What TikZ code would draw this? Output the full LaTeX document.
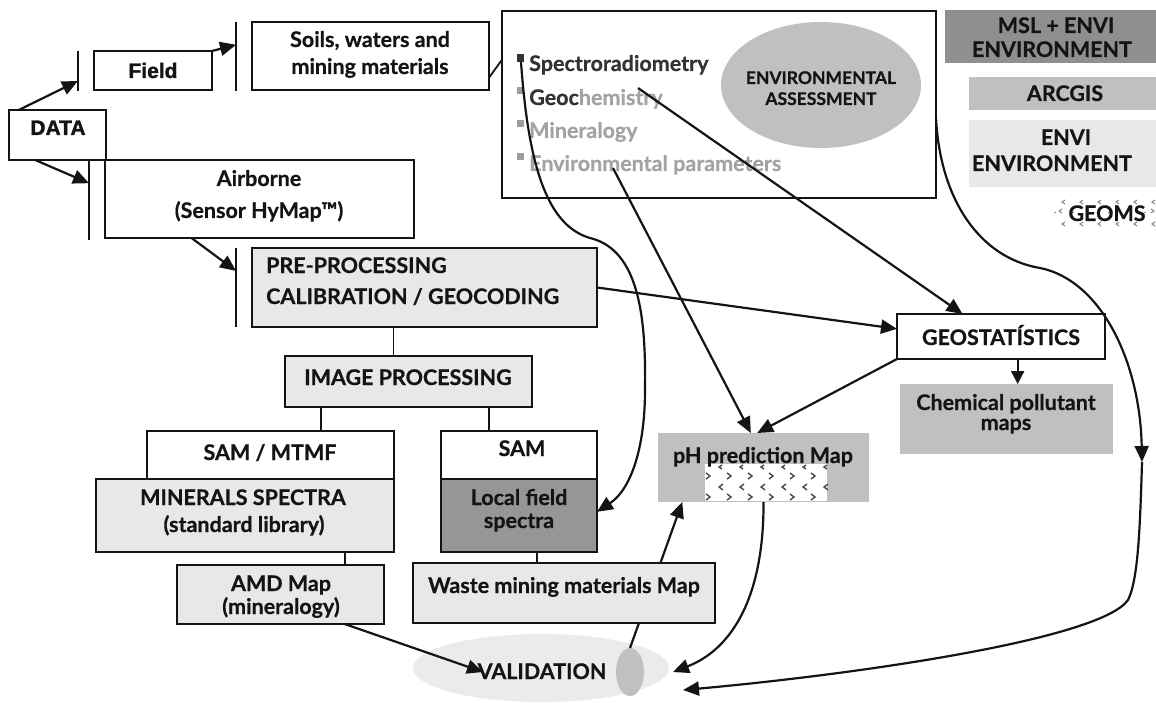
\documentclass[tikz,border=0pt]{standalone}
\usepackage{fontspec}
\setmainfont{Lato}[BoldFeatures={FakeBold=0.6}]
\newfontfamily\arialf{Liberation Sans}[BoldFeatures={FakeBold=1.6}]
\usetikzlibrary{arrows.meta,calc,shapes.geometric,fit}
\definecolor{lg}{HTML}{E8E8E8}
\definecolor{mg}{HTML}{C0C0C0}
\definecolor{dg}{HTML}{969696}
\definecolor{msl}{HTML}{8F8F8F}
\definecolor{vg}{HTML}{EBEBEB}
\definecolor{ink}{HTML}{141414}
\definecolor{bdark}{HTML}{333333}
\definecolor{bgray}{HTML}{9C9C9C}
\definecolor{tgray}{HTML}{A3A3A3}
\definecolor{chev}{HTML}{4A4A4A}
\definecolor{chevl}{HTML}{8A8A8A}
\begin{document}
\begin{tikzpicture}[x=1pt,y=-1pt,
  bx/.style={draw=ink, line width=2.1pt, inner sep=0pt, outer sep=0pt},
  fl/.style={inner sep=0pt, outer sep=0pt, draw=none},
  tx/.style={font=\bfseries\fontsize{21.5}{25}\selectfont, text=ink, inner sep=0pt, anchor=base},
  txs/.style={font=\bfseries\fontsize{17.5}{20}\selectfont, text=ink, inner sep=0pt, anchor=base},
  ta/.style={font=\arialf\bfseries\fontsize{21}{24}\selectfont, text=ink, inner sep=0pt, anchor=base},
  bar/.style={draw=ink, line width=2.2pt},
  ln/.style={draw=ink, line width=1.7pt},
  arr/.style={draw=ink, line width=2.2pt, -{Triangle[length=16pt,width=14pt]}},
  chv/.style={draw=chev, line width=1.4pt}
]
\useasboundingbox (0,0) rectangle (1156,703);

% ---------- validation ellipse (bottom layer) ----------
\node[fl, ellipse, fill=vg, minimum width=256pt, minimum height=68pt] (val) at (541,668) {};
\node[fl, ellipse, fill=mg, minimum width=28pt, minimum height=48pt] (valsm) at (630,672) {};

% ---------- boxes ----------
\node[fl, fit={(658,433) (869,502)}, fill=mg] (ph) {};
\draw[arr] (valsm.north) -- ($(ph.south west)!0.115!(ph.south east)$);

\node[bx, fit={(94,51) (212,90)}] (field) {};
\node[bx, fit={(252,22) (489,90)}] (soils) {};
\node[bx, fit={(9,110) (106,160)}, fill=white] (data) {};
\node[bx, fit={(105,160) (414,238)}] (air) {};
\node[bx, line width=1.6pt, fit={(502,11) (936,198)}] (env) {};
\node[fl, ellipse, fill=mg, minimum width=200pt, minimum height=126pt] (envass) at (821,85) {};
\node[fl, fit={(945,10) (1156,63)}, fill=msl] (msl) {};
\node[fl, fit={(969,77) (1156,110)}, fill=mg] (arcgis) {};
\node[fl, fit={(969,120) (1156,187)}, fill=lg] (envi) {};
\node[fl, fit={(1057,199) (1156,228)}, fill=white] (geoms) {};
\node[bx, fit={(252,248) (597,327)}, fill=lg] (pre) {};
\node[bx, fit={(285,356) (532,407)}, fill=lg] (ip) {};
\node[bx, fit={(147,431) (394,479)}, fill=white] (sammtmf) {};
\node[bx, fit={(96,479) (394,552)}, fill=lg] (minerals) {};
\node[bx, fit={(441,431) (597,479)}, fill=white] (sam) {};
\node[bx, fit={(441,479) (597,552)}, fill=dg] (local) {};
\node[bx, fit={(177,565) (384,624)}, fill=lg] (amd) {};
\node[bx, fit={(413,563) (715,623)}, fill=lg] (waste) {};
\node[fl, fit={(900,384) (1113,454)}, fill=mg] (chem) {};
\node[bx, fit={(897,314) (1105,359)}, fill=white] (geo) {};

% pattern inside pH map
\node[fl, fit={(705,464) (827,501)}, fill=white] (phpat) {};
\foreach \x in {706,727,748,769,790,811}{
  \draw[chv] (\x,473) -- (\x+4,476) -- (\x,479);
  \draw[chv] (\x,494) -- (\x+4,497) -- (\x,500);
}
\foreach \x in {719,740,761,782,803,824}{
  \draw[chv] (\x+3,465) -- (\x,467) -- (\x+3,469);
  \draw[chv] (\x+4,484) -- (\x,487) -- (\x+4,490);
}
% pattern of GEOMS
\foreach \x in {1062,1080,1098,1116,1134,1152}{
  \draw[draw=chevl, line width=1pt] (\x+3,200) -- (\x,202) -- (\x+3,204);
  \draw[draw=chevl, line width=1pt] (\x+3,222) -- (\x,224) -- (\x+3,226);
  \draw[draw=chevl, line width=1pt, dash pattern=on 2pt off 5pt] (\x-8,213) -- (\x-6,213);
}
\draw[draw=chevl, line width=1pt] (1062,209) -- (1059,211) -- (1062,213);
\draw[draw=chevl, line width=1pt] (1151,209) -- (1154,211) -- (1151,213);

% ---------- vertical bars ----------
\coordinate (b1t) at (78,51);  \coordinate (b1b) at (78,91);
\coordinate (b2t) at (236,22); \coordinate (b2b) at (236,91);
\coordinate (b3t) at (89,160); \coordinate (b3b) at (89,240);
\coordinate (b4t) at (236,248);\coordinate (b4b) at (236,327);
\draw[bar] (b1t) -- (b1b);
\draw[bar] (b2t) -- (b2b);
\draw[bar] (b3t) -- (b3b);
\draw[bar] (b4t) -- (b4b);

% ---------- bullets ----------
\node[fl, fill=bdark, minimum width=7pt, minimum height=8pt, anchor=north west] (bul1) at (517,54) {};
\node[fl, fill=bgray, minimum width=7pt, minimum height=7pt, anchor=north west] (bul2) at (517,87) {};
\node[fl, fill=bgray, minimum width=7pt, minimum height=7pt, anchor=north west] (bul3) at (517,120) {};
\node[fl, fill=bgray, minimum width=7pt, minimum height=7pt, anchor=north west] (bul4) at (517,153) {};

% ---------- texts ----------
\node[ta] (tfield) at (153,78) {Field};
\node[ta] (tdata) at (58,135) {DATA};
\node[tx] (tsoils1) at (370,47) {Soils, waters and};
\node[tx] (tsoils2) at (370,74) {mining materials};
\node[tx] (tair1) at (259,186) {Airborne};
\node[tx] (tair2) at (259,218) {(Sensor HyMap™)};
\node[tx, anchor=base west] (tpre1) at (266,273) {PRE-PROCESSING};
\node[tx, anchor=base west] (tpre2) at (266,304) {CALIBRATION / GEOCODING};
\node[tx] (tip) at (408,385) {IMAGE PROCESSING};
\node[tx] (tsm) at (270,460) {SAM / MTMF};
\node[tx] (tmin1) at (243,505) {MINERALS SPECTRA};
\node[tx] (tmin2) at (244,532) {(standard library)};
\node[tx] (tsam) at (522,456) {SAM};
\node[tx] (tloc1) at (519,505) {Local field};
\node[tx] (tloc2) at (519,528) {spectra};
\node[tx] (tamd1) at (281,591) {AMD Map};
\node[tx] (tamd2) at (281,614) {(mineralogy)};
\node[tx] (twaste) at (564,593) {Waste mining materials Map};
\node[tx] (tval) at (542,679) {VALIDATION};
\node[tx] (tph) at (763,463) {pH prediction Map};
\node[tx] (tgeo) at (1001,345) {GEOSTATÍSTICS};
\node[tx] (tchem1) at (1006,410) {Chemical pollutant};
\node[tx] (tchem2) at (1006,430) {maps};
\node[txs] (tea1) at (821,84) {ENVIRONMENTAL};
\node[txs] (tea2) at (821,105) {ASSESSMENT};
\node[tx] (tmsl1) at (1056,33) {MSL + ENVI};
\node[tx] (tmsl2) at (1052,57) {ENVIRONMENT};
\node[tx] (tarc) at (1065,101) {ARCGIS};
\node[tx] (tenvi1) at (1066,145) {ENVI};
\node[tx] (tenvi2) at (1052,171) {ENVIRONMENT};
\node[tx] (tgeoms) at (1107,221) {GEOMS};
\node[tx, anchor=base west, text=bdark] (ts1) at (529,71) {Spectroradiometry};
\node[tx, anchor=base west, text=bdark] (ts2) at (529,105) {Geoc\textcolor{tgray}{hemistry}};
\node[tx, anchor=base west, text=tgray] (ts3) at (529,138) {Mineralogy};
\node[tx, anchor=base west, text=tgray] (ts4) at (529,171) {Environmental parameters};

% ---------- tree lines ----------
\coordinate (p1) at ($(pre.south west)!0.41!(pre.south east)$);
\draw[ln] (p1) -- (p1 |- ip.north);
\coordinate (p2) at ($(ip.south west)!0.146!(ip.south east)$);
\draw[ln] (p2) -- (p2 |- sammtmf.north);
\coordinate (p3) at ($(ip.south west)!0.826!(ip.south east)$);
\draw[ln] (p3) -- (p3 |- sam.north);
\coordinate (p4) at ($(minerals.south west)!0.836!(minerals.south east)$);
\draw[ln] (p4) -- (p4 |- amd.north);
\coordinate (p5) at ($(local.south west)!0.615!(local.south east)$);
\draw[ln] (p5) -- (p5 |- waste.north);

% ---------- connectors ----------
\draw[arr] ($(data.north west)!0.1!(data.north east)$) -- ($(b1t)!0.75!(b1b)$);
\draw[arr] (field.north east) -- ($(b2t)!0.33!(b2b)$);
\draw[arr] ($(data.south west)!0.27!(data.south east)$) -- ($(b3t)!0.29!(b3b)$);
\draw[arr] ($(air.south west)!0.28!(air.south east)$) -- ($(b4t)!0.29!(b4b)$);
\draw[ln, line width=1.8pt] ($(soils.north east)!0.82!(soils.south east)$) -- ($(env.north west)!0.26!(env.south west)$);

\coordinate (gc) at (638,88);
\coordinate (ep) at (613,168);
\coordinate (sp) at (521,62);
\coordinate (valV) at (483,672);
\coordinate (valR) at (673,672);
\coordinate (valB) at (683,690);
\coordinate (rmid) at (1142,462);

\draw[arr] ($(pre.north east)!0.5!(pre.south east)$) -- ($(geo.north west)!0.33!(geo.south west)$);
\draw[arr] (gc) -- ($(geo.north west)!0.315!(geo.north east)$);
\draw[arr] (ep) -- ($(ph.north west)!0.44!(ph.north east)$);
\draw[arr] (geo.south west) -- ($(ph.north west)!0.47!(ph.north east)$);
\coordinate (p6) at ($(geo.south west)!0.58!(geo.south east)$);
\draw[arr, -{Triangle[length=13pt,width=13pt]}] (p6) -- (p6 |- chem.north);
\draw[arr] ($(amd.south west)!0.81!(amd.south east)$) -- (valV);
\draw[arr] ($(ph.south west)!0.5!(ph.south east)$) .. controls (764,600) and (730,650) .. (valR);

\draw[arr] (sp) .. controls (528,160) and (545,225) .. (590,238)
   .. controls (640,250) and (646,320) .. (645,390)
   .. controls (645,450) and (630,490) .. ($(local.north east)!0.45!(local.south east)$);

\draw[arr] ($(env.north east)!0.57!(env.south east)$) .. controls (940,200) and (980,258) .. (1040,268)
   .. controls (1100,280) and (1140,360) .. (rmid);
\draw[arr] (rmid) .. controls (1140,530) and (1138,580) .. (1128,600)
   .. controls (1100,640) and (850,675) .. (valB);

\end{tikzpicture}
\end{document}
